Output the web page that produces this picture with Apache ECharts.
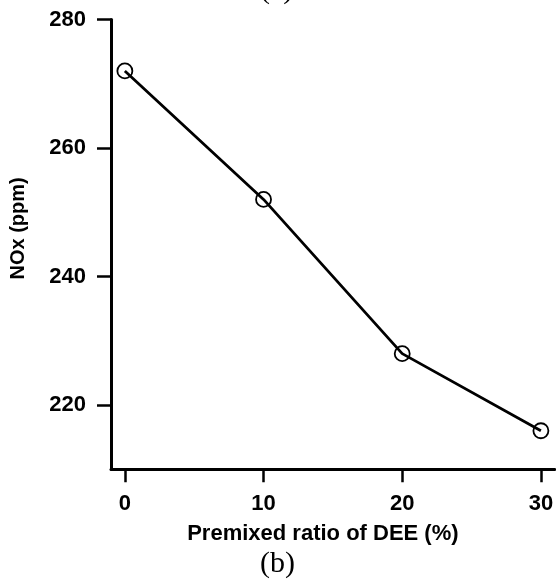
<!DOCTYPE html>
<html>
<head>
<meta charset="utf-8">
<script src="https://cdn.jsdelivr.net/npm/echarts@6/dist/echarts.min.js"></script>
<style>
  html, body { margin: 0; padding: 0; background: #fff; }
  #chart { width: 556px; height: 581px; }
</style>
</head>
<body>
<div id="chart"></div>
<script>
// NOx emission vs. premixed DEE ratio
const premixRatio = [0, 10, 20, 30];
const noxPpm = [272, 252, 228, 216];
const xTicks = [0, 10, 20, 30];
const yTicks = [220, 240, 260, 280];

const sans = '"Liberation Sans", Arial, sans-serif';
const serif = '"Liberation Serif", "Times New Roman", serif';

const chart = echarts.init(document.getElementById('chart'), null, { renderer: 'canvas' });

chart.setOption({
  backgroundColor: '#fff',
  animation: false,
  grid: { left: 106.5, right: 0, top: 19.5, bottom: 111.7, containLabel: false },
  xAxis: {
    type: 'value',
    min: -1,
    max: 31,
    name: 'Premixed ratio of DEE (%)',
    nameLocation: 'middle',
    nameGap: 54,
    nameTextStyle: { fontFamily: sans, fontWeight: 'bold', fontSize: 22, color: '#000', padding: [0, 20, 0, 0] },
    axisLine: { show: true, onZero: false, lineStyle: { color: '#000', width: 3 } },
    axisTick: { show: true, inside: false, length: 13, customValues: xTicks, lineStyle: { color: '#000', width: 2.5 } },
    axisLabel: { show: true, margin: 24, customValues: xTicks, fontFamily: sans, fontWeight: 'bold', fontSize: 22, color: '#000' },
    splitLine: { show: false }
  },
  yAxis: {
    type: 'value',
    min: 210,
    max: 280,
    name: 'NOx (ppm)',
    nameLocation: 'middle',
    nameGap: 83,
    nameTextStyle: { fontFamily: sans, fontWeight: 'bold', fontSize: 20, color: '#000', padding: [0, 0, 0, 32] },
    axisLine: { show: true, onZero: false, lineStyle: { color: '#000', width: 3 } },
    axisTick: { show: true, inside: false, length: 14, customValues: yTicks, lineStyle: { color: '#000', width: 2.5 } },
    axisLabel: { show: true, margin: 25, customValues: yTicks, fontFamily: sans, fontWeight: 'bold', fontSize: 22, color: '#000' },
    splitLine: { show: false }
  },
  series: [{
    type: 'line',
    data: premixRatio.map((x, i) => [x, noxPpm[i]]),
    symbol: 'circle',
    symbolSize: 15,
    showSymbol: true,
    lineStyle: { color: '#000', width: 2.8 },
    itemStyle: { color: 'rgba(255,255,255,0)', borderColor: '#000', borderWidth: 1.8 },
    emphasis: { disabled: true }
  }],
  graphic: [
    {
      type: 'text',
      left: 260,
      top: 549,
      style: { text: '(b)', font: '30px ' + serif, fill: '#000' }
    },
    {
      type: 'text',
      left: 260,
      top: -25,
      style: { text: '(a)', font: '30px ' + serif, fill: '#000' }
    }
  ]
});
</script>
</body>
</html>
